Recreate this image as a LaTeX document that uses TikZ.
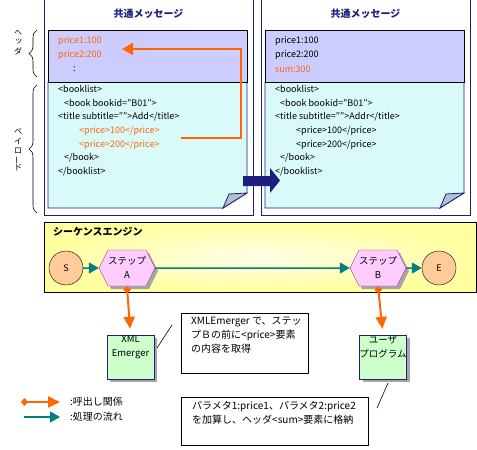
\documentclass[tikz,border=0pt]{standalone}
\usepackage{fontspec}
\setmainfont{Noto Sans CJK JP}
\usepackage{graphicx}
\usetikzlibrary{arrows.meta,shapes.symbols,shadows,decorations.pathreplacing}
\definecolor{navy}{RGB}{30,30,130}
\definecolor{orng}{RGB}{255,102,0}
\definecolor{teal2}{RGB}{0,128,128}
\definecolor{hdr}{RGB}{204,204,255}
\definecolor{pay}{RGB}{218,250,250}
\definecolor{seqy}{RGB}{255,255,160}
\definecolor{hexf}{RGB}{255,204,255}
\definecolor{hexd}{RGB}{150,50,110}
\definecolor{circf}{RGB}{255,204,153}
\definecolor{grn}{RGB}{204,255,204}
\definecolor{foldc}{RGB}{175,195,205}
\begin{document}
\begin{tikzpicture}[x=1pt,y=-1pt,
  txt/.style={anchor=west,inner sep=0,font=\fontsize{9}{11}\selectfont},
  jtxt/.style={anchor=north west,inner sep=0,align=left,font=\fontsize{10}{14}\selectfont},
  doctitle/.style={inner sep=0,text=navy,font=\fontsize{10}{12}\selectfont\bfseries},
  vch/.style={inner sep=0,font=\fontsize{8}{8}\selectfont},
  circ/.style={circle,draw=black,fill=circf,minimum size=34pt,inner sep=0,font=\fontsize{9}{11}\selectfont},
  hexa/.style={signal,signal to=east and west,signal pointer angle=127,draw=hexd,fill=hexf,
     minimum width=48pt,minimum height=36pt,inner sep=0,align=center,
     font=\fontsize{9.5}{14}\selectfont,
     drop shadow={shadow xshift=3pt,shadow yshift=-3pt,fill=gray!70,opacity=1}},
  gbox/.style={rectangle,draw=navy,fill=grn,minimum width=47pt,minimum height=44pt,inner sep=0,
     drop shadow={shadow xshift=3pt,shadow yshift=-3pt,fill=gray!70,opacity=1}},
  boxtxt/.style={anchor=north,inner sep=0,align=center,font=\fontsize{9.5}{14}\selectfont},
  cbox/.style={rectangle,draw=black,fill=white,inner sep=0},
  flow/.style={teal2,line width=1.5pt,-{Triangle[length=10pt,width=11pt]}},
  call/.style={orng,line width=2pt,{Diamond[length=7pt,width=8pt]}-{Triangle[length=12pt,width=11pt]}},
  frame/.style={navy,line width=0.8pt},
  brc/.style={decorate,decoration={brace,amplitude=8pt},line width=0.6pt}
]
\useasboundingbox (0,0) rectangle (477,450);

% ---------- outer frames ----------
\draw[frame] (44,-5) rectangle (253,215);
\draw[frame] (261,-5) rectangle (470,215);
\node[doctitle] (t1) at (148.5,14) {共通メッセージ};
\node[doctitle] (t2) at (365.5,14) {共通メッセージ};

% ---------- left document ----------
\filldraw[fill=pay,draw=navy,line width=0.8pt] (48,82) -- (247,82) -- (247,193) -- (223,208) -- (48,208) -- cycle;
\filldraw[fill=foldc,draw=navy,line width=0.8pt] (223,208) -- (229,194) -- (247,193) -- cycle;
\filldraw[fill=hdr,draw=black,line width=0.8pt] (48,30) rectangle (247,82);

\node[txt,text=orng] (l1) at (58,41) {price1:100};
\node[txt,text=orng] (l2) at (58,55) {price2:200};
\node[txt] (l3) at (73,69) {:};
\node[txt] (p1) at (58,89) {<booklist>};
\node[txt] (p2) at (64,103) {<book bookid=″B01″>};
\node[txt] (p3) at (58,117) {<title subtitle=″″>Add</title>};
\node[txt,text=orng] (p4) at (79,131) {<price>100</price>};
\node[txt,text=orng] (p5) at (79,145) {<price>200</price>};
\node[txt] (p6) at (64,158) {</book>};
\node[txt] (p7) at (58,172) {</booklist>};

% ---------- right document ----------
\filldraw[fill=pay,draw=navy,line width=0.8pt] (265,82) -- (464,82) -- (464,193) -- (440,208) -- (265,208) -- cycle;
\filldraw[fill=foldc,draw=navy,line width=0.8pt] (440,208) -- (446,194) -- (464,193) -- cycle;
\filldraw[fill=hdr,draw=black,line width=0.8pt] (265,30) rectangle (464,82);

\node[txt] (r1) at (275,41) {price1:100};
\node[txt] (r2) at (275,55) {price2:200};
\node[txt,text=orng] (r3) at (275,69) {sum:300};
\node[txt] (q1) at (275,89) {<booklist>};
\node[txt] (q2) at (280,103) {<book bookid=″B01″>};
\node[txt] (q3) at (275,117) {<title subtitle=″″>Addr</title>};
\node[txt] (q4) at (296,131) {<price>100</price>};
\node[txt] (q5) at (296,145) {<price>200</price>};
\node[txt] (q6) at (280,158) {</book>};
\node[txt] (q7) at (275,172) {</booklist>};

% ---------- orange reference arrow in documents ----------
\coordinate (osrc) at (181,138);
\coordinate (odst) at (122,49);
\draw[orng,line width=2pt,-{Triangle[length=11pt,width=12pt]}] (osrc) -- (241,138) |- (odst);

% ---------- big navy arrow ----------
\fill[navy] (243,176) -- (270,176) -- (270,168) -- (280,180.5) -- (270,193) -- (270,186) -- (243,186) -- cycle;

% ---------- braces and vertical labels ----------
\draw[brc] (37,77) -- (37,30);
\draw[brc] (37,213) -- (37,85);
\node[vch] (h1) at (18,33) {ヘ};
\node[vch] (h2) at (19,41) {ッ};
\node[vch] (h3) at (18,51) {ダ};
\node[vch] (v1) at (18,132) {ペ};
\node[vch] (v2) at (18,141) {イ};
\node[vch] (v3) at (18,151) {ロ};
\node[vch] (v4) at (18,160) {\rotatebox{90}{ー}};
\node[vch] (v5) at (18,168) {ド};

% ---------- sequence engine ----------
\shade[inner color=seqy!25!white,outer color=seqy] (44,222) rectangle (476,292);
\draw[black,line width=0.8pt] (44,222) rectangle (476,292);
\node[anchor=west,inner sep=0,font=\fontsize{10}{12}\selectfont\bfseries] (seq) at (53,232) {シーケンスエンジン};

\node[circ] (S) at (66,268) {S};
\node[hexa] (A) at (127,268) {ステップ\\A};
\node[hexa] (B) at (378,268) {ステップ\\B};
\node[circ] (E) at (439,268) {E};

\draw[flow] (S) -- (A);
\draw[flow] (A) -- (B);
\draw[flow] (B) -- (E);

% ---------- called components ----------
\node[gbox] (xml) at (130.5,357) {};
\node[boxtxt] (xmlt) at ([yshift=-1pt]xml.north) {XML\\Emerger};
\node[gbox] (usr) at (383,357) {};
\node[boxtxt] (usrt) at ([yshift=-1pt]usr.north) {ユーザ\\プログラム};

\draw[call,shorten >=6pt] (A.south) -- (xml.north);
\draw[call,shorten >=6pt] (B.south) -- (usr.north);

% ---------- callouts ----------
\node[cbox,minimum width=127pt,minimum height=60pt] (c1) at (244.5,343) {};
\node[jtxt] (c1t) at (191,317) {XMLEmerger で、ステッ\\プＢの前に<price>要素\\の内容を取得};
\coordinate (c1a) at (172,325);
\coordinate (c1b) at (157,348);
\draw[black,line width=0.6pt] (c1a) -- (c1b);

\node[cbox,minimum width=187pt,minimum height=48pt] (c2) at (274.5,421) {};
\node[jtxt] (c2t) at (192,401) {パラメタ1:price1、パラメタ2:price2\\を加算し、ヘッダ<sum>要素に格納};
\coordinate (c2a) at (388,383);
\coordinate (c2b) at (377,408);
\draw[black,line width=0.6pt] (c2a) -- (c2b);

% ---------- legend ----------
\coordinate (la1) at (21,402);
\coordinate (la2) at (60,402);
\draw[call] (la1) -- (la2);
\node[anchor=west,inner sep=0,font=\fontsize{10}{12}\selectfont] (lt1) at (70,402) {:呼出し関係};
\coordinate (lb1) at (24,417);
\coordinate (lb2) at (60,417);
\draw[flow] (lb1) -- (lb2);
\node[anchor=west,inner sep=0,font=\fontsize{10}{12}\selectfont] (lt2) at (70,417) {:処理の流れ};
\end{tikzpicture}
\end{document}
